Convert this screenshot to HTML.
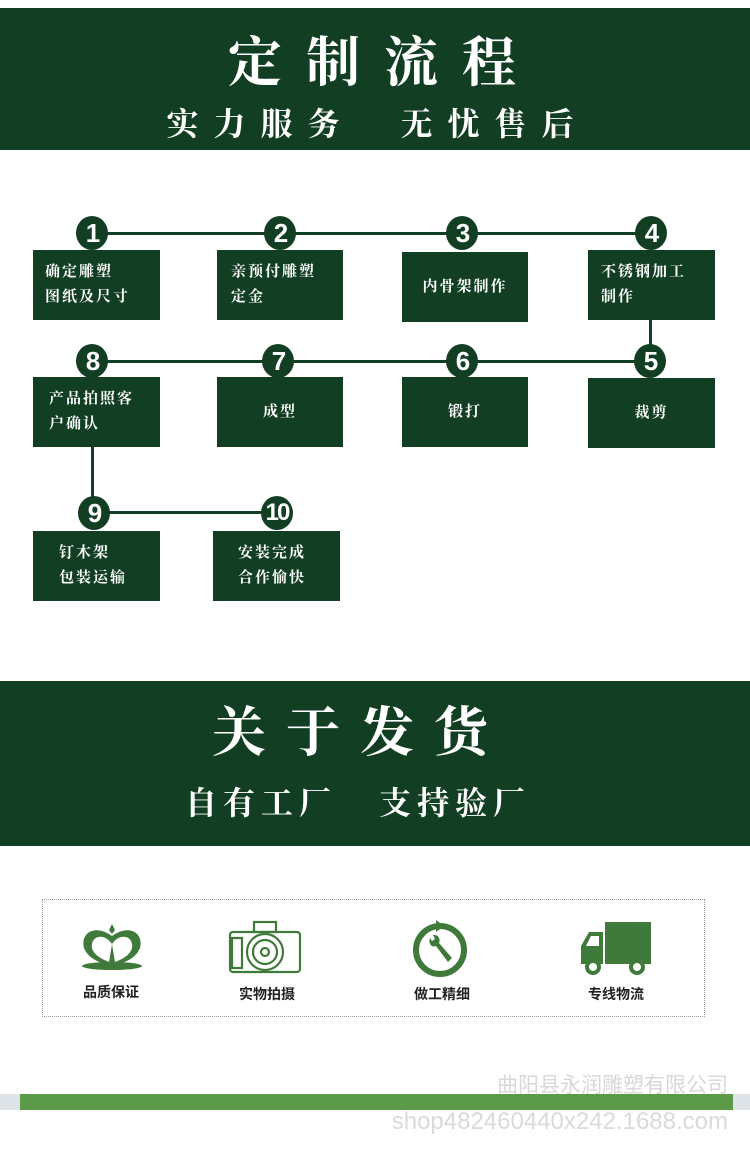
<!DOCTYPE html>
<html><head><meta charset="utf-8"><style>
*{margin:0;padding:0;box-sizing:border-box}
body{width:750px;height:1151px;background:#fff;position:relative;overflow:hidden;font-family:"Liberation Sans","Noto Sans CJK SC",sans-serif}
.ab{position:absolute}
.band{position:absolute;left:0;width:750px;background:#123f24;color:#fff;text-align:center;font-family:"Liberation Serif","Noto Serif CJK SC",serif;font-weight:bold}
.box{position:absolute;background:#123f24;color:#fff;font-size:15px;font-weight:bold;line-height:25px;letter-spacing:2px;display:flex;align-items:center;font-family:"Liberation Serif","Noto Serif CJK SC",serif}
.c{position:absolute;width:32px;height:34px;border-radius:50%;background:#123f24;color:#fff;font-size:26px;font-weight:bold;text-align:center;line-height:34px;letter-spacing:-2px}
.h{position:absolute;height:3px;background:#123f24}
.v{position:absolute;width:3px;background:#123f24}
.lab{position:absolute;font-size:14px;font-weight:bold;color:#222;width:120px;text-align:center}
</style></head><body>
<div class="band" style="top:8px;height:142px">
<div class="ab" style="left:0;width:750px;top:24px;font-size:54px;letter-spacing:24px;line-height:62px;padding-left:18px">定制流程</div>
<div class="ab" style="left:0;width:740px;top:96px;font-size:32px;line-height:40px;letter-spacing:15px;padding-left:15px">实力服务&nbsp; 无忧售后</div>
</div>

<div class="h" style="left:92px;top:232px;width:560px"></div>
<div class="h" style="left:92px;top:360px;width:560px"></div>
<div class="h" style="left:94px;top:511px;width:184px"></div>
<div class="v" style="left:649px;top:318px;height:30px"></div>
<div class="v" style="left:91px;top:445px;height:55px"></div>

<div class="c" style="left:76px;top:216px">1</div>
<div class="c" style="left:264px;top:216px">2</div>
<div class="c" style="left:446px;top:216px">3</div>
<div class="c" style="left:635px;top:216px">4</div>
<div class="c" style="left:76px;top:344px">8</div>
<div class="c" style="left:262px;top:344px">7</div>
<div class="c" style="left:446px;top:344px">6</div>
<div class="c" style="left:634px;top:344px">5</div>
<div class="c" style="left:78px;top:496px">9</div>
<div class="c" style="left:261px;top:496px;font-size:24px">10</div>

<div class="box" style="left:33px;top:250px;width:127px;height:70px;padding-left:12px">确定雕塑<br>图纸及尺寸</div>
<div class="box" style="left:217px;top:250px;width:126px;height:70px;padding-left:14px">亲预付雕塑<br>定金</div>
<div class="box" style="left:402px;top:252px;width:126px;height:70px;justify-content:center">内骨架制作</div>
<div class="box" style="left:588px;top:250px;width:127px;height:70px;padding-left:13px">不锈钢加工<br>制作</div>
<div class="box" style="left:33px;top:377px;width:127px;height:70px;padding-left:16px">产品拍照客<br>户确认</div>
<div class="box" style="left:217px;top:377px;width:126px;height:70px;justify-content:center">成型</div>
<div class="box" style="left:402px;top:377px;width:126px;height:70px;justify-content:center">锻打</div>
<div class="box" style="left:588px;top:378px;width:127px;height:70px;justify-content:center">裁剪</div>
<div class="box" style="left:33px;top:531px;width:127px;height:70px;padding-left:26px">钉木架<br>包装运输</div>
<div class="box" style="left:213px;top:531px;width:127px;height:70px;padding-left:25px">安装完成<br>合作愉快</div>

<div class="band" style="top:681px;height:165px">
<div class="ab" style="left:0;width:700px;top:20px;font-size:54px;letter-spacing:20px;line-height:64px;padding-left:20px">关于发货</div>
<div class="ab" style="left:0;width:710px;top:102px;font-size:32px;line-height:40px;letter-spacing:6px;padding-left:6px">自有工厂&nbsp;&nbsp; 支持验厂</div>
</div>

<div class="ab" style="left:42px;top:899px;width:663px;height:118px;border:1px dotted #999"></div>
<svg class="ab" style="left:76px;top:922px" width="72" height="50" viewBox="0 0 72 50">
<ellipse cx="36" cy="44" rx="30" ry="4" fill="#3f7a3a"/>
<path d="M36 14 C20 2 4 10 8 26 C12 36 22 40 30 42 L36 42 L42 42 C50 40 60 36 64 26 C68 10 52 2 36 14Z" fill="#3f7a3a"/>
<path d="M36 22 C28 10 14 14 16 26 C18 34 28 38 33 40 Z M36 22 C44 10 58 14 56 26 C54 34 44 38 39 40 Z" fill="#fff"/>
<path d="M33 8 L36 2 L39 8 L36 12Z" fill="#3f7a3a"/>
</svg>
<svg class="ab" style="left:228px;top:918px" width="74" height="58" viewBox="0 0 74 58">
<g fill="none" stroke="#3f7a3a" stroke-width="2.2">
<rect x="2" y="14" width="70" height="40" rx="3"/><rect x="26" y="4" width="22" height="10"/>
<rect x="4" y="20" width="10" height="30"/>
<circle cx="37" cy="34" r="18"/><circle cx="37" cy="34" r="12"/><circle cx="37" cy="34" r="4"/>
</g></svg>
<svg class="ab" style="left:410px;top:918px" width="60" height="60" viewBox="0 0 60 60">
<circle cx="30" cy="32" r="24" fill="none" stroke="#3f7a3a" stroke-width="6"/>
<path d="M26 2 L34 8 L26 14Z" fill="#3f7a3a"/>
<path d="M20 20 C18 26 22 30 26 28 L38 44 L42 40 L29 25 C31 21 28 16 23 17 L25 21 L22 23Z" fill="#3f7a3a"/>
</svg>
<svg class="ab" style="left:577px;top:920px" width="76" height="58" viewBox="0 0 76 58">
<rect x="28" y="2" width="46" height="42" fill="#3f7a3a"/>
<path d="M4 44 L4 26 L12 12 L26 12 L26 44Z" fill="#3f7a3a"/>
<path d="M9 26 L14 16 L22 16 L22 26Z" fill="#fff"/>
<circle cx="16" cy="47" r="8" fill="#3f7a3a"/><circle cx="16" cy="47" r="4" fill="#fff"/>
<circle cx="60" cy="47" r="8" fill="#3f7a3a"/><circle cx="60" cy="47" r="4" fill="#fff"/>
</svg>
<div class="lab" style="left:51px;top:982px">品质保证</div>
<div class="lab" style="left:207px;top:984px">实物拍摄</div>
<div class="lab" style="left:382px;top:984px">做工精细</div>
<div class="lab" style="left:556px;top:984px">专线物流</div>

<div class="ab" style="left:0;top:1094px;width:750px;height:16px;background:#dde3e6"></div>
<div class="ab" style="left:20px;top:1094px;width:713px;height:16px;background:#5a9a48"></div>
<div class="ab" style="left:460px;top:1072px;width:268px;text-align:right;font-size:21px;color:#d8d8d8;line-height:28px">曲阳县永润雕塑有限公司</div>
<div class="ab" style="left:330px;top:1106px;width:398px;text-align:right;font-size:24px;color:#dadada;line-height:32px">shop482460440x242.1688.com</div>
</body></html>
